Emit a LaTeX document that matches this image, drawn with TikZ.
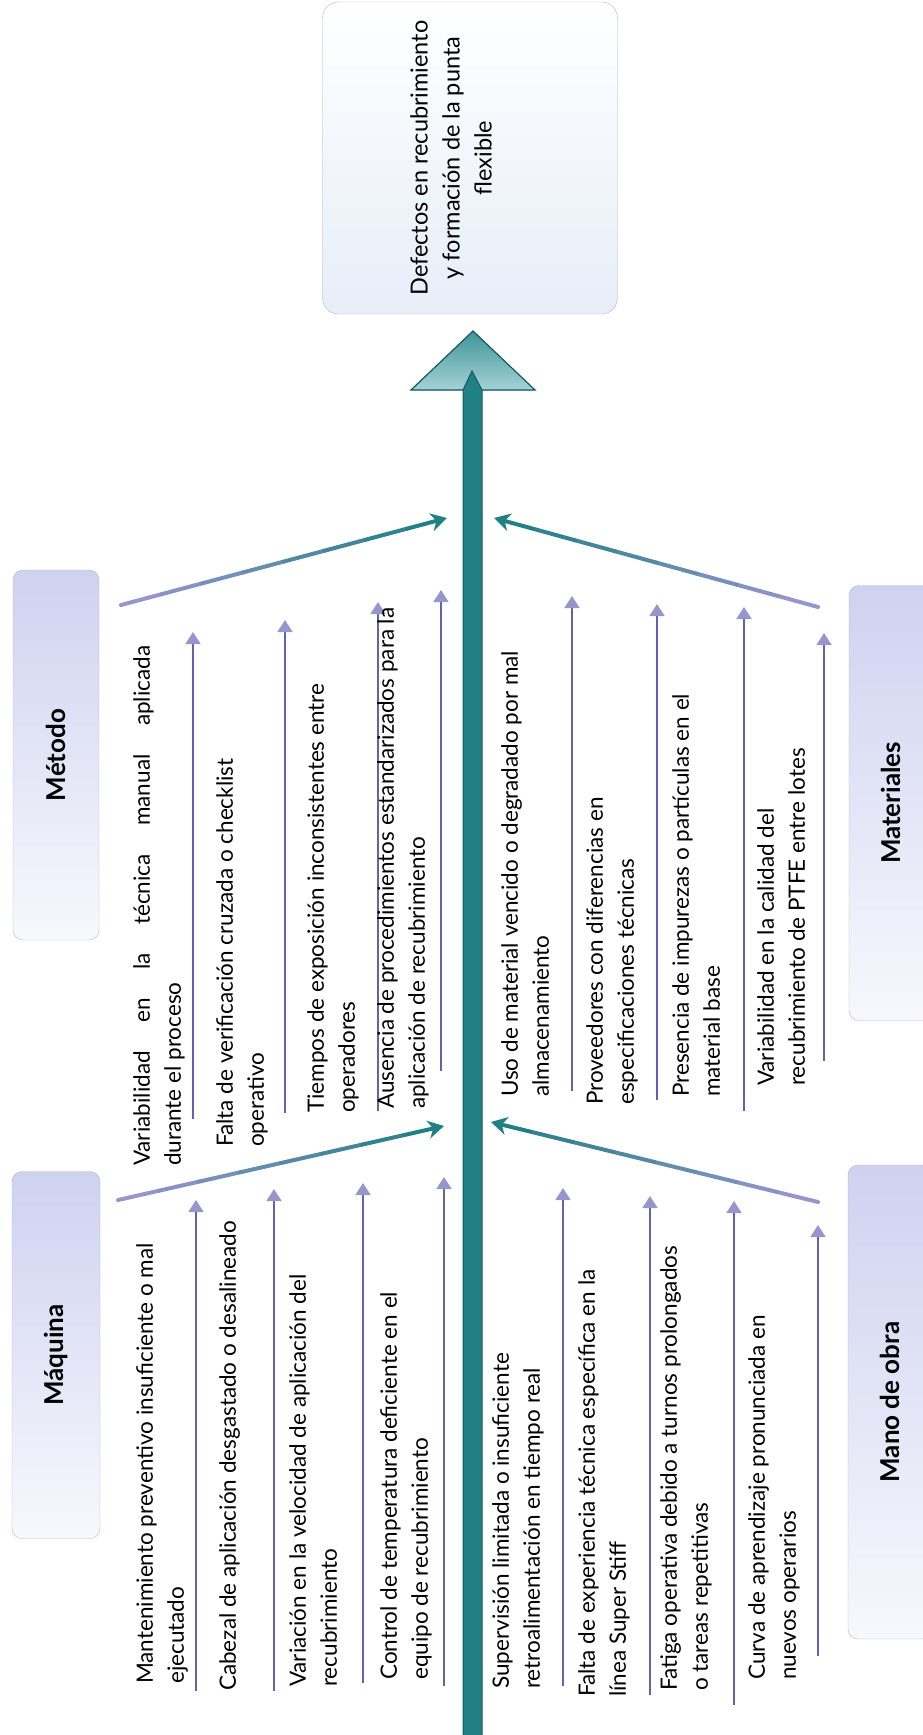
\documentclass[tikz,border=0pt]{standalone}
\usepackage{fontspec}
\setmainfont{Lato}
\usetikzlibrary{arrows.meta,calc,positioning}

\definecolor{spine}{RGB}{33,128,132}
\definecolor{spinedark}{RGB}{18,92,97}
\definecolor{headdark}{RGB}{64,148,152}
\definecolor{headlight}{RGB}{165,210,214}
\definecolor{lav}{RGB}{150,150,205}
\definecolor{causeline}{RGB}{98,98,178}
\definecolor{boxlav}{RGB}{206,210,240}
\definecolor{boxrim}{RGB}{180,182,205}
\definecolor{effectblue}{RGB}{222,232,246}

\tikzset{
    effect/.style   = {rectangle,
                      rounded corners=16pt,
                      draw=boxrim,
                      top color=white,
                      bottom color=effectblue!75!white,
                      rotate=90,
                      inner sep=0pt},
    effecttxt/.style= {rotate=90,
                      align=center,
                      inner sep=0pt,
                      font=\fontsize{23.5}{32}\selectfont},
    category/.style = {rectangle,
                      rounded corners=10pt,
                      draw=boxrim,
                      top color=boxlav,
                      bottom color=white!85!boxlav,
                      rotate=90,
                      font=\bfseries\fontsize{26}{30}\selectfont,
                      inner sep=0pt},
    cause/.style    = {rotate=90,
                      anchor=north west,
                      align=left,
                      inner sep=0pt,
                      font=\fontsize{22.5}{31}\selectfont},
    causearrow/.style = {draw=causeline,
                      line width=1.8pt,
                      -{Triangle[width=15pt,length=12pt,color=lav]}},
    branch/.style   = {line width=4pt,
                      line cap=round}
}

\begin{document}
\begin{tikzpicture}[x=1pt,y=-1pt]
    \useasboundingbox (0,0) rectangle (923,1735);
    \clip (0,0) rectangle (923,1735);

    % effect and the four categories
    \node[effect, minimum width=312pt, minimum height=295pt] (E) at (470,158) {};
    \node[effecttxt] (Etxt) at ($(E.center)+(-19,0)$)
        {Defectos en recubrimiento\\y formación de la punta\\flexible};
    \node[category, minimum width=370pt, minimum height=86pt] (Met) at (56,755)  {Método};
    \node[category, minimum width=435pt, minimum height=84pt] (Mat) at (891,803) {Materiales};
    \node[category, minimum width=367pt, minimum height=88pt] (Maq) at (56,1355) {Máquina};
    \node[category, minimum width=474pt, minimum height=84pt] (Man) at (890,1402) {Mano de obra};

    % spine with its head
    \coordinate (apex) at (473,331);
    \coordinate (tail) at (472,1740);
    \filldraw[draw=spinedark, line width=1.2pt, top color=headdark, bottom color=headlight]
        (apex) -- ++(62,59) -- ++(-124,0) -- cycle;
    \filldraw[fill=spine, draw=spinedark, line width=1pt]
        ($(tail)+(-9,0)$) -- ++(0,-1350) -- ($(apex)+(-1,40)$) -- ($(tail)+(10,-1350)$)
        -- ($(tail)+(10,0)$) -- cycle;

    % branches from the categories to the spine
    \coordinate (br1a) at (121,605);  \coordinate (br1b) at (447,518);
    \coordinate (br2a) at (818,607);  \coordinate (br2b) at (494,518);
    \coordinate (br3a) at (118,1200); \coordinate (br3b) at (444,1126);
    \coordinate (br4a) at (818,1202); \coordinate (br4b) at (491,1122);
    \foreach \k in {1,...,4}{
        \foreach \i [evaluate=\i as \p using {int(100*\i/7)}] in {0,...,6}
            \draw[branch, spine!\p!lav] ($(br\k a)!\i/8!(br\k b)$) -- ($(br\k a)!\i/8+1/8!(br\k b)$);
        \draw[branch, spine, line cap=butt, -{Stealth[width=18pt,length=16pt,inset=5pt]}]
            ($(br\k a)!7/8!(br\k b)$) -- (br\k b);
    }

    % cause arrows
    \foreach \n/\x/\ya/\yb in {m1/193/1119/632, m2/285/1113/620, m3/378/1111/602, m4/441/1071/590,
                               a1/572/1091/596, a2/657/1100/604, a3/744/1111/607, a4/824/1061/633,
                               q1/196/1691/1200, q2/274/1691/1189, q3/363/1683/1183, q4/444/1686/1177,
                               o1/563/1686/1188, o2/650/1695/1196, o3/734/1705/1201, o4/818/1656/1225}{
        \coordinate (\n s) at (\x,\ya);
        \coordinate (\n e) at (\x,\yb);
        \draw[causearrow] (\n s) -- (\n e);
    }

    % Método
    \node[cause] (M1) at (133,1166) {\makebox[520pt][s]{Variabilidad en la técnica manual aplicada}\\durante el proceso};
    \node[cause] (M2) at (216,1147) {Falta de verificación cruzada o checklist\\operativo};
    \node[cause] (M3) at (307,1113) {Tiempos de exposición inconsistentes entre\\operadores};
    \node[cause] (M4) at (377,1109) {Ausencia de procedimientos estandarizados para la\\aplicación de recubrimiento};
    % Materiales
    \node[cause] (A1) at (501,1097) {Uso de material vencido o degradado por mal\\almacenamiento};
    \node[cause] (A2) at (586,1105) {Proveedores con diferencias en\\especificaciones técnicas};
    \node[cause] (A3) at (672,1097) {Presencia de impurezas o partículas en el\\material base};
    \node[cause] (A4) at (757,1086) {Variabilidad en la calidad del\\recubrimiento de PTFE entre lotes};
    % Máquina
    \node[cause] (Q1) at (136,1684) {Mantenimiento preventivo insuficiente o mal\\ejecutado};
    \node[cause] (Q2) at (219,1691) {Cabezal de aplicación desgastado o desalineado};
    \node[cause] (Q3) at (289,1687) {Variación en la velocidad de aplicación del\\recubrimiento};
    \node[cause] (Q4) at (380,1680) {Control de temperatura deficiente en el\\equipo de recubrimiento};
    % Mano de obra
    \node[cause] (O1) at (492,1689) {Supervisión limitada o insuficiente\\retroalimentación en tiempo real};
    \node[cause] (O2) at (578,1697) {Falta de experiencia técnica específica en la\\línea Super Stiff};
    \node[cause] (O3) at (660,1691) {Fatiga operativa debido a turnos prolongados\\o tareas repetitivas};
    \node[cause] (O4) at (748,1680) {Curva de aprendizaje pronunciada en\\nuevos operarios};
\end{tikzpicture}
\end{document}
